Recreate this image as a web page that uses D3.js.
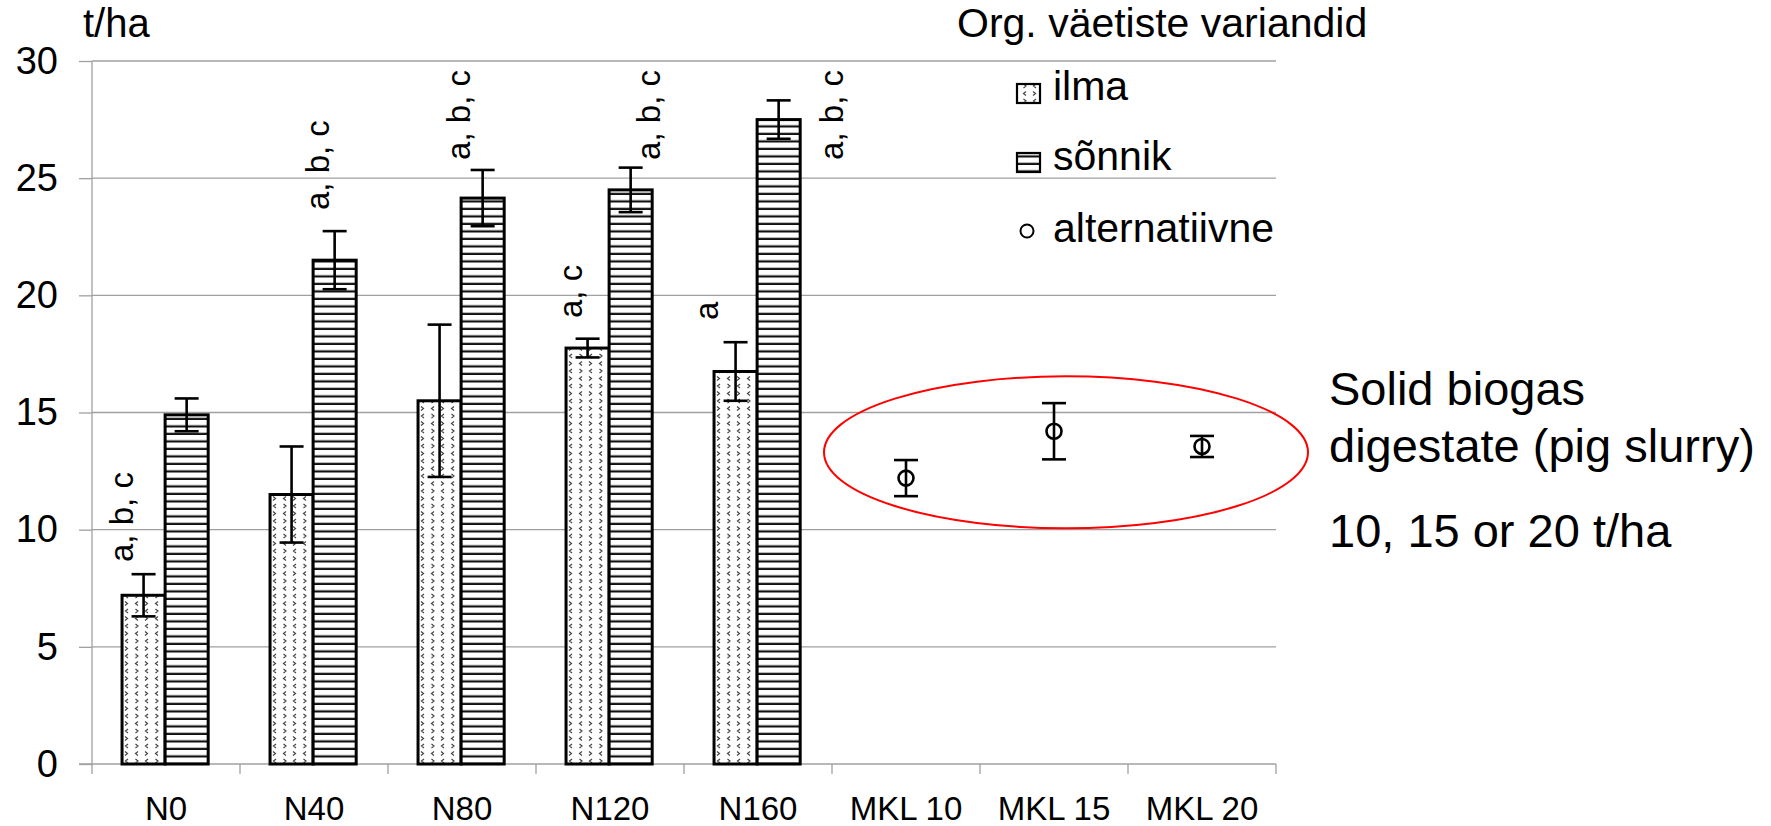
<!DOCTYPE html>
<html>
<head>
<meta charset="utf-8">
<script src="https://cdn.jsdelivr.net/npm/d3@7"></script>
<style>
  body { margin: 0; background: #fff; }
  text { font-family: "Liberation Sans", Arial, sans-serif; fill: #000; }
</style>
</head>
<body>
<script>
var w = 1771;
var h = 826;

// data
var categories = ["N0", "N40", "N80", "N120", "N160", "MKL 10", "MKL 15", "MKL 20"];
var barCats = ["N0", "N40", "N80", "N120", "N160"];
var ilma = [7.2, 11.5, 15.5, 17.75, 16.75];
var ilmaErr = [0.9, 2.05, 3.25, 0.4, 1.25];
var sonnik = [14.9, 21.5, 24.15, 24.5, 27.5];
var sonnikErr = [0.7, 1.24, 1.2, 0.95, 0.82];
var altCats = ["MKL 10", "MKL 15", "MKL 20"];
var alt = [12.2, 14.2, 13.55];
var altErr = [0.77, 1.2, 0.45];
var yTicks = [0, 5, 10, 15, 20, 25, 30];
var series = ["ilma", "sõnnik"];
var sigText = ["a, b, c", "a, b, c", "a, b, c", "a, c", "a, b, c", "a", "a, b, c"];
var sigCat = ["N0", "N40", "N80", "N120", "N120", "N160", "N160"];
var sigVal = [8.62, 23.64, 25.78, 19.03, 25.78, 18.95, 25.78];
var sigDx = [-33, 15, 8, -28, 50, -40, 85];   // px offset from category centre
var noteLines = ["Solid biogas", "digestate (pig slurry)", "10, 15 or 20 t/ha"];

var svg = d3.select("body").append("svg")
    .attr("width", w)
    .attr("height", h);

svg.append("rect").attr("width", w).attr("height", h).attr("fill", "#fff");

var defs = svg.append("defs");

// dotted chevron pattern (ilma)
var p1 = defs.append("pattern")
    .attr("id", "pIlma")
    .attr("patternUnits", "userSpaceOnUse")
    .attr("width", 20).attr("height", 15);
p1.append("rect").attr("width", 20).attr("height", 15).attr("fill", "#fff");
p1.append("path")
    .attr("d", "M6,1.5 l-2.5,2 l2.5,2 M13,1.5 l2.5,2 l-2.5,2 M3.5,9 l2.5,2 l-2.5,2 M16,9 l-2.5,2 l2.5,2")
    .attr("fill", "none").attr("stroke", "#444").attr("stroke-width", 1.2);

// horizontal lines pattern (sõnnik)
var p2 = defs.append("pattern")
    .attr("id", "pSonnik")
    .attr("patternUnits", "userSpaceOnUse")
    .attr("width", 10).attr("height", 7.5);
p2.append("rect").attr("width", 10).attr("height", 7.5).attr("fill", "#fff");
p2.append("rect").attr("y", 5.3).attr("width", 10).attr("height", 2.2).attr("fill", "#111");

var x = d3.scaleBand()
    .domain(categories)
    .range([92, 1276]);

var x1 = d3.scaleBand()
    .domain(series)
    .range([x.bandwidth() * 0.203, x.bandwidth() * 0.785]);

var y = d3.scaleLinear()
    .domain([0, 30])
    .range([764, 61]);

// gridlines
svg.append("g")
    .selectAll("line")
    .data(yTicks.slice(1))
    .enter()
    .append("line")
    .attr("x1", 92).attr("x2", 1276)
    .attr("y1", function(d) { return y(d); })
    .attr("y2", function(d) { return y(d); })
    .attr("stroke", "#a0a0a0").attr("stroke-width", 1.3);

// y axis
var yAxis = svg.append("g")
    .attr("transform", "translate(92,0)")
    .call(d3.axisLeft(y).tickValues(yTicks).tickSize(13).tickPadding(21));
yAxis.selectAll("line, path").attr("stroke", "#a0a0a0").attr("stroke-width", 1.3);
yAxis.select(".domain").attr("d", "M0," + y(0) + "V" + y(30));
yAxis.selectAll("text").style("font-size", "38px").attr("font-family", null);

// x axis
var xAxis = svg.append("g")
    .attr("transform", "translate(0," + y(0) + ")")
    .call(d3.axisBottom(x).tickSize(0).tickPadding(33));
xAxis.select(".domain").attr("stroke", "#a0a0a0").attr("stroke-width", 1.3).attr("d", "M79,0H1276");
xAxis.selectAll("text").style("font-size", "33px").attr("font-family", null);
xAxis.selectAll(".boundary")
    .data(categories.concat(["end"]))
    .enter()
    .append("line")
    .attr("class", "boundary")
    .attr("x1", function(d, i) { return x.range()[0] + i * x.step(); })
    .attr("x2", function(d, i) { return x.range()[0] + i * x.step(); })
    .attr("y1", 0).attr("y2", 10)
    .attr("stroke", "#a0a0a0").attr("stroke-width", 1.3);

// bars
var groups = svg.append("g")
    .selectAll("g")
    .data(barCats)
    .enter()
    .append("g")
    .attr("transform", function(d) { return "translate(" + x(d) + ",0)"; });

groups.append("rect")
    .attr("x", x1("ilma"))
    .attr("width", x1.bandwidth())
    .attr("y", function(d, i) { return y(ilma[i]); })
    .attr("height", function(d, i) { return y(0) - y(ilma[i]); })
    .attr("fill", "url(#pIlma)")
    .attr("stroke", "#000").attr("stroke-width", 3);

groups.append("rect")
    .attr("x", x1("sõnnik"))
    .attr("width", x1.bandwidth())
    .attr("y", function(d, i) { return y(sonnik[i]); })
    .attr("height", function(d, i) { return y(0) - y(sonnik[i]); })
    .attr("fill", "url(#pSonnik)")
    .attr("stroke", "#000").attr("stroke-width", 3);

// error bars
function errBar(g, cx, v, e) {
    g.append("line").attr("x1", cx).attr("x2", cx).attr("y1", y(v + e)).attr("y2", y(v - e));
    g.append("line").attr("x1", cx - 12).attr("x2", cx + 12).attr("y1", y(v + e)).attr("y2", y(v + e));
    g.append("line").attr("x1", cx - 12).attr("x2", cx + 12).attr("y1", y(v - e)).attr("y2", y(v - e));
}

var errG = svg.append("g").attr("stroke", "#000").attr("stroke-width", 2.6);
barCats.forEach(function(c, i) {
    errBar(errG, x(c) + x1("ilma") + x1.bandwidth() / 2, ilma[i], ilmaErr[i]);
    errBar(errG, x(c) + x1("sõnnik") + x1.bandwidth() / 2, sonnik[i], sonnikErr[i]);
});
altCats.forEach(function(c, i) {
    errBar(errG, x(c) + x.bandwidth() / 2, alt[i], altErr[i]);
});

// alternative points
svg.append("g")
    .selectAll("circle")
    .data(altCats)
    .enter()
    .append("circle")
    .attr("cx", function(d) { return x(d) + x.bandwidth() / 2; })
    .attr("cy", function(d, i) { return y(alt[i]); })
    .attr("r", 7.5)
    .attr("fill", "none")
    .attr("stroke", "#000").attr("stroke-width", 2.6);

// significance letters
svg.append("g")
    .selectAll("text")
    .data(sigText)
    .enter()
    .append("text")
    .attr("transform", function(d, i) {
        var cx = x(sigCat[i]) + x.bandwidth() / 2 + sigDx[i];
        return "translate(" + cx + "," + y(sigVal[i]) + ") rotate(-90)";
    })
    .style("font-size", "33px")
    .text(function(d) { return d; });

// red ellipse around the alternative variants
svg.append("ellipse")
    .attr("cx", x("MKL 15") + x.bandwidth() / 2 + 12)
    .attr("cy", y(13.3))
    .attr("rx", 242)
    .attr("ry", 76)
    .attr("fill", "none")
    .attr("stroke", "#f00").attr("stroke-width", 2);

// unit label
svg.append("text")
    .attr("x", 83).attr("y", 37)
    .style("font-size", "40px")
    .text("t/ha");

// legend
var lg = svg.append("g");
lg.append("text").attr("x", 957).attr("y", 37).style("font-size", "41px").text("Org. väetiste variandid");
lg.append("rect").attr("x", 1017).attr("y", 84).attr("width", 23).attr("height", 19)
    .attr("fill", "url(#pIlma)").attr("stroke", "#000").attr("stroke-width", 2.2);
lg.append("text").attr("x", 1053).attr("y", 100).style("font-size", "41px").text("ilma");
lg.append("rect").attr("x", 1017).attr("y", 153).attr("width", 23).attr("height", 19)
    .attr("fill", "url(#pSonnik)").attr("stroke", "#000").attr("stroke-width", 2.2);
lg.append("text").attr("x", 1053).attr("y", 170).style("font-size", "41px").text("sõnnik");
lg.append("circle").attr("cx", 1027).attr("cy", 231).attr("r", 6.5)
    .attr("fill", "none").attr("stroke", "#000").attr("stroke-width", 2);
lg.append("text").attr("x", 1053).attr("y", 242).style("font-size", "41px").text("alternatiivne");

// note text
svg.append("g")
    .selectAll("text")
    .data(noteLines)
    .enter()
    .append("text")
    .attr("x", 1329)
    .attr("y", function(d, i) { return [405, 462, 547][i]; })
    .style("font-size", "47px")
    .text(function(d) { return d; });
</script>
</body>
</html>
